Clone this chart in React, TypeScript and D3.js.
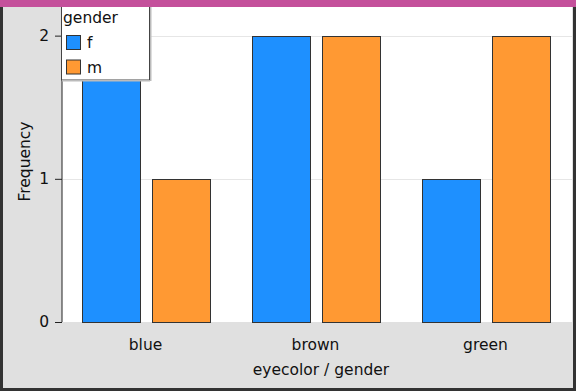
import { useEffect, useRef } from 'react';
import * as d3 from 'd3';

const categories = ['blue', 'brown', 'green'];
const genders = ['f', 'm'];
const countsF = [2, 2, 1];
const countsM = [1, 2, 2];
const yTicks = [0, 1, 2];
const colors = ['#1e90ff', '#ff9933'];

export default function App() {
  const ref = useRef<SVGSVGElement | null>(null);

  useEffect(() => {
    if (!ref.current) return;
    const svg = d3.select(ref.current);
    svg.selectAll('*').remove();

    const W = 576;
    const H = 391;
    const left = 62, right = 572, top = 7, bottom = 322;
    const font = '"DejaVu Sans", sans-serif';

    // background + frame
    svg.append('rect').attr('width', W).attr('height', H).attr('fill', '#e0e0e0');
    svg.append('rect').attr('x', left).attr('y', top).attr('width', right - left).attr('height', bottom - top).attr('fill', '#fff');

    const x = d3.scaleBand().domain(categories).range([left - 1, right - 1]);
    const xi = d3.scaleBand().domain(genders).range([0, x.bandwidth()]).paddingInner(0.174).paddingOuter(0.3);
    const y = d3.scaleLinear().domain([0, 2.2]).range([bottom, top]);
    const color = d3.scaleOrdinal<string, string>().domain(genders).range(colors);

    // grid
    svg.append('g')
      .selectAll('line')
      .data(yTicks.filter(d => d > 0))
      .join('line')
      .attr('x1', left + 1)
      .attr('x2', right)
      .attr('y1', d => Math.round(y(d)) + 0.5)
      .attr('y2', d => Math.round(y(d)) + 0.5)
      .attr('stroke', '#e6e6e6')
      .attr('stroke-width', 1);

    const data = categories.flatMap((c, i) => [
      { cat: c, g: 'f', v: countsF[i] },
      { cat: c, g: 'm', v: countsM[i] },
    ]);

    svg.append('g')
      .selectAll('rect')
      .data(data)
      .join('rect')
      .attr('x', d => Math.round(x(d.cat)! + xi(d.g)!) + 0.5)
      .attr('y', d => Math.round(y(d.v)) + 0.5)
      .attr('width', Math.round(xi.bandwidth()))
      .attr('height', d => Math.round(y(0)) - Math.round(y(d.v)))
      .attr('fill', d => color(d.g))
      .attr('stroke', '#333')
      .attr('stroke-width', 1);

    // y axis
    const yAxis = svg.append('g')
      .attr('transform', `translate(${left},0)`)
      .call(d3.axisLeft(y).tickValues(yTicks).tickFormat(d3.format('d')).tickSize(7).tickPadding(6));
    yAxis.select('.domain').attr('stroke', '#222').attr('d', `M0,${top}V${bottom}`);
    yAxis.selectAll('.tick line').attr('stroke', '#222');
    yAxis.selectAll('text').attr('font-family', font).attr('font-size', 15.5).attr('fill', '#111');

    // x labels
    svg.append('g')
      .selectAll('text')
      .data(categories)
      .join('text')
      .attr('x', d => x(d)! + x.bandwidth() / 2 - 0.5)
      .attr('y', 350)
      .attr('text-anchor', 'middle')
      .attr('font-family', font)
      .attr('font-size', 15.5)
      .attr('fill', '#111')
      .text(d => d);

    svg.append('text')
      .attr('x', (left + right) / 2 + 4)
      .attr('y', 375)
      .attr('text-anchor', 'middle')
      .attr('font-family', font)
      .attr('font-size', 15.5)
      .attr('fill', '#111')
      .text('eyecolor / gender');

    svg.append('text')
      .attr('transform', `translate(30,${(top + bottom) / 2 - 3}) rotate(-90)`)
      .attr('text-anchor', 'middle')
      .attr('font-family', font)
      .attr('font-size', 15.5)
      .attr('fill', '#111')
      .text('Frequency');

    // legend
    const lg = svg.append('g');
    lg.append('rect')
      .attr('x', 61.5).attr('y', -5).attr('width', 88).attr('height', 85)
      .attr('fill', '#fff').attr('stroke', '#444').attr('stroke-width', 1);
    lg.append('rect')
      .attr('x', 62).attr('y', 80).attr('width', 88).attr('height', 1.5).attr('fill', '#bbb');
    lg.append('rect')
      .attr('x', 150).attr('y', 0).attr('width', 1.5).attr('height', 81).attr('fill', '#bbb');
    lg.append('text')
      .attr('x', 63).attr('y', 23)
      .attr('font-family', font).attr('font-size', 15.5).attr('fill', '#111')
      .text('gender');
    const items = lg.selectAll('g.item')
      .data(genders)
      .join('g')
      .attr('class', 'item')
      .attr('transform', (_, i) => `translate(66,${35 + i * 24.5})`);
    items.append('rect')
      .attr('x', 0.5).attr('y', 0.5).attr('width', 14).attr('height', 14)
      .attr('fill', d => color(d)).attr('stroke', '#333');
    items.append('text')
      .attr('x', 21).attr('y', 13)
      .attr('font-family', font).attr('font-size', 15.5).attr('fill', '#111')
      .text(d => d);

    // top bar and border
    svg.append('rect').attr('x', 0).attr('y', 0).attr('width', W).attr('height', 7).attr('fill', '#c4509b');
    svg.append('rect').attr('x', 0).attr('y', 7).attr('width', 3).attr('height', H - 7).attr('fill', '#333');
    svg.append('rect').attr('x', W - 3).attr('y', 7).attr('width', 3).attr('height', H - 7).attr('fill', '#333');
    svg.append('rect').attr('x', 0).attr('y', H - 3).attr('width', W).attr('height', 3).attr('fill', '#333');
  }, []);

  return (
    <svg
      ref={ref}
      width={576}
      height={391}
      style={{ position: 'absolute', left: 0, top: 0, display: 'block' }}
    ></svg>
  );
}
